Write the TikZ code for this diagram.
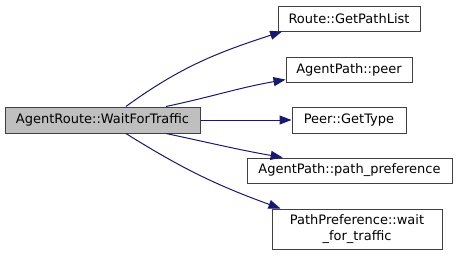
\documentclass[tikz,border=0pt]{standalone}
\usepackage{fontspec}
\setmainfont{DejaVu Sans}
\usetikzlibrary{arrows.meta}
\definecolor{edgeblue}{HTML}{191970}
\definecolor{boxgray}{HTML}{BFBFBF}
\definecolor{boxline}{HTML}{404040}

\begin{document}
\begin{tikzpicture}[x=1pt, y=1pt,
  fn/.style={draw=boxline, line width=1pt, fill=white, inner sep=0pt,
    minimum height=25pt, font=\fontsize{13}{15.5}\selectfont, align=center},
  cur/.style={fn, fill=boxgray},
  call/.style={draw=edgeblue, line width=1pt,
    -{Triangle[length=12pt,width=9pt]}}]
\useasboundingbox (0,0) rectangle (456,-255);

% caller
\node[cur, minimum width=195pt, minimum height=26pt] (wait) at (102.5,-120) {AgentRoute::WaitForTraffic};

% callees
\node[fn, minimum width=142pt] (pathlist) at (349,-18.5) {Route::GetPathList};
\node[fn, minimum width=126pt] (peer) at (349,-69.5) {AgentPath::peer};
\node[fn, minimum width=114pt, minimum height=26pt] (gettype) at (349,-120) {Peer::GetType};
\node[fn, minimum width=205pt] (pref) at (349.5,-170.5) {AgentPath::path\_preference};
\node[fn, minimum width=170pt, minimum height=40pt] (waitpref) at (357,-229)
  {PathPreference::wait\\\_for\_traffic};

% calls
\draw[call] (wait.30) to[out=36, in=198] (pathlist.191);
\draw[call] (wait.12) to[out=12, in=190] (peer.189);
\draw[call] (wait.east) -- (gettype.west);
\draw[call] (wait.-12) to[out=-12, in=170] (pref.169);
\draw[call] (wait.-30) to[out=-32, in=160] (waitpref.165);
\end{tikzpicture}
\end{document}
